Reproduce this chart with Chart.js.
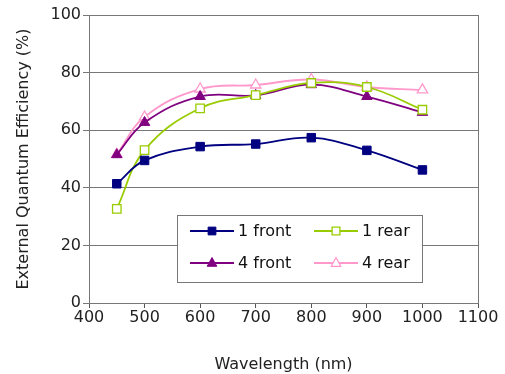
<!DOCTYPE html>
<html lang="en">
<head>
<meta charset="UTF-8">
<title>External Quantum Efficiency</title>
<script src="https://cdn.jsdelivr.net/npm/chart.js@4"></script>
<style>
    html, body { margin: 0; padding: 0; background: #fff; }
    #wrap { width: 505px; height: 374px; position: relative; }
</style>
</head>
<body>
<div id="wrap"><canvas id="eqeChart" width="505" height="374"></canvas></div>
<script>
// Wavelengths (nm) and efficiency values (%)
const wavelengths = [450, 500, 600, 700, 800, 900, 1000];
const front1 = [41.4, 49.5, 54.3, 55.2, 57.4, 53.0, 46.2];
const rear1  = [32.7, 53.1, 67.6, 72.2, 76.4, 75.0, 67.1];
const front4 = [51.5, 62.7, 71.7, 72.1, 75.8, 71.7, 66.2];
const rear4  = [51.6, 64.6, 74.3, 75.7, 77.6, 75.0, 74.0];

const FONT = '"DejaVu Sans", "Liberation Sans", Arial, sans-serif';

function toPoints(values) {
    return wavelengths.map((w, i) => ({ x: w, y: values[i] }));
}

function makeSeries(label, values, color, style, hollow) {
    return {
        label: label,
        data: toPoints(values),
        borderColor: color,
        backgroundColor: hollow ? '#ffffff' : color,
        pointBackgroundColor: hollow ? '#ffffff' : color,
        pointBorderColor: color,
        pointStyle: style,
        pointRadius: style === 'rect' ? 6 : 6,
        pointBorderWidth: hollow ? 1.3 : 1,
        borderWidth: 1.8,
        tension: 0.4,
        fill: false
    };
}

function drawMarker(ctx, style, x, y, r) {
    if (style === 'rect') {
        const s = r * Math.SQRT1_2;
        ctx.rect(x - s, y - s, 2 * s, 2 * s);
    } else {
        ctx.moveTo(x, y - r);
        ctx.lineTo(x + r * 0.87, y + r * 0.6);
        ctx.lineTo(x - r * 0.87, y + r * 0.6);
        ctx.closePath();
    }
}

// frame around the plot area (top + right edges like the original)
const framePlugin = {
    id: 'frame',
    beforeDatasetsDraw(chart) {
        const { ctx, chartArea: a } = chart;
        ctx.save();
        ctx.strokeStyle = '#777';
        ctx.lineWidth = 1;
        ctx.strokeRect(a.left + 0.5, a.top + 0.5, a.right - a.left, a.bottom - a.top);
        ctx.restore();
    }
};

// legend box drawn inside the plot, as in the source figure
const boxLegend = {
    id: 'boxLegend',
    afterDatasetsDraw(chart) {
        const ctx = chart.ctx;
        const box = { x: 177, y: 215, w: 245, h: 67 };
        ctx.save();
        ctx.fillStyle = '#fff';
        ctx.fillRect(box.x, box.y, box.w, box.h);
        ctx.strokeStyle = '#777';
        ctx.lineWidth = 1;
        ctx.strokeRect(box.x + 0.5, box.y + 0.5, box.w, box.h);

        const cols = [190, 314];
        const rows = [231, 263];
        ctx.font = '16px ' + FONT;
        ctx.textBaseline = 'middle';
        chart.data.datasets.forEach((ds, i) => {
            const x0 = cols[i % 2];
            const y = rows[Math.floor(i / 2)];
            ctx.strokeStyle = ds.borderColor;
            ctx.lineWidth = 1.8;
            ctx.beginPath();
            ctx.moveTo(x0, y);
            ctx.lineTo(x0 + 44, y);
            ctx.stroke();
            ctx.fillStyle = ds.pointBackgroundColor;
            ctx.strokeStyle = ds.pointBorderColor;
            ctx.lineWidth = ds.pointBorderWidth;
            ctx.beginPath();
            drawMarker(ctx, ds.pointStyle, x0 + 22, y, 5.5);
            ctx.fill();
            ctx.stroke();
            ctx.fillStyle = '#111';
            ctx.fillText(ds.label, x0 + 48, y + 1);
        });
        ctx.restore();
    }
};

const ctx = document.getElementById('eqeChart').getContext('2d');
new Chart(ctx, {
    type: 'line',
    data: {
        datasets: [
            makeSeries('1 front', front1, '#000080', 'rect', false),
            makeSeries('1 rear', rear1, '#99cc00', 'rect', true),
            makeSeries('4 front', front4, '#800080', 'triangle', false),
            makeSeries('4 rear', rear4, '#ff99cc', 'triangle', true)
        ]
    },
    options: {
        responsive: false,
        animation: false,
        layout: { padding: { left: 14, top: 15, right: 27, bottom: 0 } },
        plugins: {
            legend: { display: false },
            tooltip: { enabled: false }
        },
        scales: {
            x: {
                type: 'linear',
                min: 400,
                max: 1100,
                ticks: {
                    stepSize: 100,
                    color: '#222',
                    font: { family: FONT, size: 16 },
                    padding: 0,
                    maxRotation: 0,
                    callback: (v) => String(v)
                },
                grid: {
                    drawOnChartArea: false,
                    drawTicks: true,
                    tickLength: 5,
                    color: '#555'
                },
                border: { color: '#555' },
                title: {
                    display: true,
                    text: 'Wavelength (nm)',
                    color: '#222',
                    font: { family: FONT, size: 16 },
                    padding: { top: 18, bottom: 0 }
                },
                afterFit(scale) { scale.height = 71; }
            },
            y: {
                min: 0,
                max: 100,
                ticks: {
                    stepSize: 20,
                    color: '#222',
                    font: { family: FONT, size: 16 },
                    padding: 2
                },
                grid: {
                    color: '#777',
                    tickLength: 6,
                    drawTicks: true
                },
                border: { color: '#555' },
                title: {
                    display: true,
                    text: 'External Quantum Efficiency (%)',
                    color: '#222',
                    font: { family: FONT, size: 16 },
                    padding: { top: 0, bottom: 6 }
                },
                afterFit(scale) { scale.width = 75; }
            }
        }
    },
    plugins: [framePlugin, boxLegend]
});
</script>
</body>
</html>
